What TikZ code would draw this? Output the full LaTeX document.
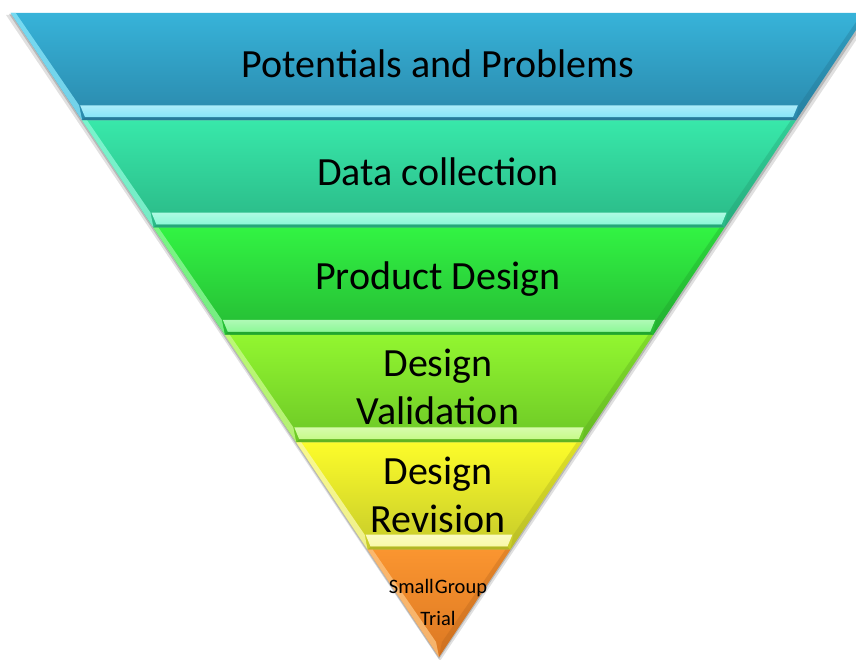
\documentclass[tikz,border=0pt]{standalone}
\usepackage{fontspec}
\setmainfont{Carlito}
\usepackage{xcolor}
\usetikzlibrary{positioning}

% band colours: top, bottom, bevel highlight
\definecolor{potTop}{HTML}{37B3D9}
\definecolor{potBot}{HTML}{2A88AB}
\definecolor{potLite}{HTML}{86E4F8}
\definecolor{datTop}{HTML}{38E8AA}
\definecolor{datBot}{HTML}{2AB886}
\definecolor{datLite}{HTML}{8AF8D6}
\definecolor{proTop}{HTML}{32F343}
\definecolor{proBot}{HTML}{25BA34}
\definecolor{proLite}{HTML}{8CF896}
\definecolor{valTop}{HTML}{92F630}
\definecolor{valBot}{HTML}{6CC726}
\definecolor{valLite}{HTML}{C6FA88}
\definecolor{revTop}{HTML}{FCFC2A}
\definecolor{revBot}{HTML}{C6CA2A}
\definecolor{revLite}{HTML}{F9F9A8}
\definecolor{triTop}{HTML}{FA9530}
\definecolor{triBot}{HTML}{DC7822}
\definecolor{triLite}{HTML}{FCC27E}

\begin{document}
\begin{tikzpicture}[
        x=1pt, y=-1pt,
        stage/.style={font=\fontsize{40}{48}\selectfont, align=center, text=black,
                      minimum height=107.33pt, inner sep=0pt},
        small/.style={stage, font=\fontsize{20.5}{32}\selectfont}
      ]
        \useasboundingbox (0,0) rectangle (856,660);
        \clip (0,0) rectangle (856,660);

        % Shadow
        \fill [black, opacity=0.12] (6,15) -- (873,15) -- (440,661) -- cycle;
        \fill [black, opacity=0.18] (9,14) -- (870,14) -- (439,659) -- cycle;

        % Bands
        \foreach \i/\ctop/\cbot/\clite in {0/potTop/potBot/potLite, 1/datTop/datBot/datLite,
                 2/proTop/proBot/proLite, 3/valTop/valBot/valLite,
                 4/revTop/revBot/revLite, 5/triTop/triBot/triLite} {
          \pgfmathsetmacro{\yt}{13+107.33*\i}
          \pgfmathsetmacro{\yb}{\yt+107.33}
          \pgfmathsetmacro{\ys}{\yb-15}
          \pgfmathsetmacro{\xlt}{439-0.665*(657-\yt)}
          \pgfmathsetmacro{\xrt}{439+0.665*(657-\yt)}
          \pgfmathsetmacro{\xlb}{439-0.665*(657-\yb)}
          \pgfmathsetmacro{\xrb}{439+0.665*(657-\yb)}
          \pgfmathsetmacro{\xls}{439-0.665*(657-\ys)}
          \pgfmathsetmacro{\xrs}{439+0.665*(657-\ys)}
          \shade [top color=\ctop, bottom color=\cbot]
            (\xlt,\yt) -- (\xrt,\yt) -- (\xrb,\yb) -- (\xlb,\yb) -- cycle;
          % left and right bevels
          \fill [\clite, opacity=0.8]
            (\xlt,\yt) -- (\xlt+5,\yt) -- (\xls+7,\ys) -- (\xlb,\yb) -- cycle;
          \fill [\cbot!80!black, opacity=0.3]
            (\xrt,\yt) -- (\xrt-5,\yt) -- (\xrs-7,\ys) -- (\xrb,\yb) -- cycle;
          % bottom bevel
          \ifnum\i<5
            \shade [top color=\clite!70!white, bottom color=\clite]
              (\xls+8,\ys) -- (\xrs-8,\ys) -- (\xrb-3,\yb-3) -- (\xlb+3,\yb-3) -- cycle;
            \fill [\cbot!90!black]
              (\xlb+3,\yb-3) -- (\xrb-3,\yb-3) -- (\xrb,\yb) -- (\xlb,\yb) -- cycle;
          \fi
        }

        % Labels
        \node [stage] (potentials) at (438,64) {Potentials and Problems};
        \node [stage, below=0pt of potentials] (collection) {Data collection};
        \node [stage, below=0pt of collection] (product) {Product Design};
        \node [stage, below=0pt of product] (validation) {Design\\Validation};
        \node [stage, below=0pt of validation] (revision) {Design\\Revision};
        \node [small, below=0pt of revision] (trial) {Small\hspace{1pt}Group\\Trial};
      \end{tikzpicture}
\end{document}
